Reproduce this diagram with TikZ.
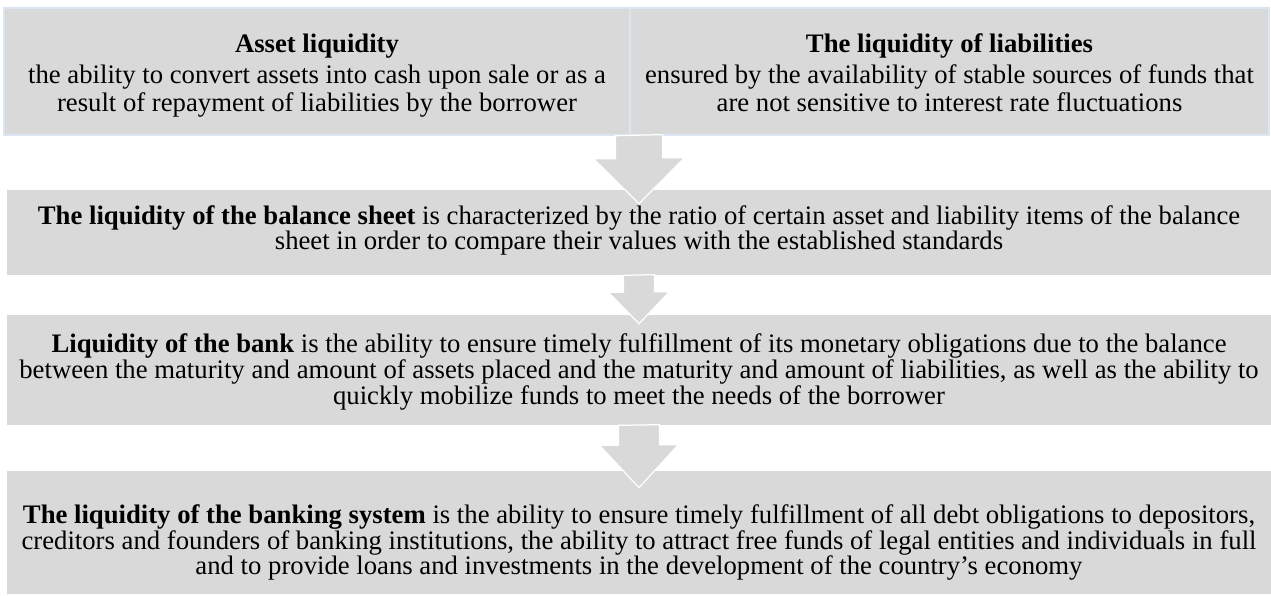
\documentclass[tikz,border=0pt]{standalone}
\usepackage{fontspec}
\setmainfont{Liberation Serif}
\usetikzlibrary{positioning,calc}
\definecolor{boxgray}{HTML}{D9D9D9}
\definecolor{boxline}{HTML}{DCE6F2}
\setlength{\lineskiplimit}{-8pt}

\begin{document}
\begin{tikzpicture}[
    x=0.02cm, y=-0.02cm,
    level/.style={fill=boxgray, inner sep=0pt},
    pair/.style={level, draw=boxline, line width=0.8pt},
    words/.style={align=center, inner sep=0pt, font=\fontsize{15.2}{14.7}\selectfont},
    flow/.style={fill=boxgray, draw=white, line width=0.7pt}
]
\useasboundingbox (0,0) rectangle (1271,595);

% Top row: the two kinds of liquidity
\node[pair, minimum width=626*0.02cm, minimum height=127*0.02cm] (asset) at (317,71.5) {};
\node[pair, minimum width=639*0.02cm, minimum height=127*0.02cm] (liab) at (949.5,71.5) {};
\node[words] (assettext) at ($(asset)+(0,5)$)
    {\strut\textbf{Asset liquidity}\\[3pt]
     the ability to convert assets into cash upon sale or as a\\[1pt]
     result of repayment of liabilities by the borrower\strut};
\node[words] (liabtext) at ($(liab)+(0,5)$)
    {\strut\textbf{The liquidity of liabilities}\\[3pt]
     ensured by the availability of stable sources of funds that\\[1pt]
     are not sensitive to interest rate fluctuations\strut};

% Levels below
\node[level, minimum width=1264*0.02cm, minimum height=85*0.02cm] (sheet) at (639,232.5) {};
\node[level, minimum width=1264*0.02cm, minimum height=110*0.02cm] (bank) at (639,370) {};
\node[level, minimum width=1264*0.02cm, minimum height=123*0.02cm] (system) at (639,532.5) {};

\node[words] (sheettext) at ($(sheet)+(0,-1)$)
    {\strut\textbf{The liquidity of the balance sheet} is characterized by the ratio of certain asset and liability items of the balance\\
     sheet in order to compare their values with the established standards\strut};
\node[words] (banktext) at ($(bank)+(0,3)$)
    {\strut\textbf{Liquidity of the bank} is the ability to ensure timely fulfillment of its monetary obligations due to the balance\\
     between the maturity and amount of assets placed and the maturity and amount of liabilities, as well as the ability to\\
     quickly mobilize funds to meet the needs of the borrower\strut};
\node[words] (systemtext) at ($(system)+(0,11)$)
    {\strut\textbf{The liquidity of the banking system} is the ability to ensure timely fulfillment of all debt obligations to depositors,\\
     creditors and founders of banking institutions, the ability to attract free funds of legal entities and individuals in full\\
     and to provide loans and investments in the development of the country's economy\strut};

% Block arrows
\path[flow] ($(sheet.north |- asset.south)+(-23.5,0)$) -- ++(0,23) -- ++(-22,0)
    -- ($(sheet.north)+(0,14)$) -- ++(45.5,-46) -- ++(-22,0) -- ++(0,-23) -- cycle;
\path[flow] ($(sheet.south)+(-15.5,0)$) -- ++(0,17) -- ++(-15,0)
    -- ($(bank.north)+(0,9)$) -- ++(30.5,-32) -- ++(-15,0) -- ++(0,-17) -- cycle;
\path[flow] ($(bank.south)+(-20.5,0)$) -- ++(0,20) -- ++(-19,0)
    -- ($(system.north)+(0,17)$) -- ++(39.5,-43) -- ++(-19,0) -- ++(0,-20) -- cycle;

\end{tikzpicture}
\end{document}
